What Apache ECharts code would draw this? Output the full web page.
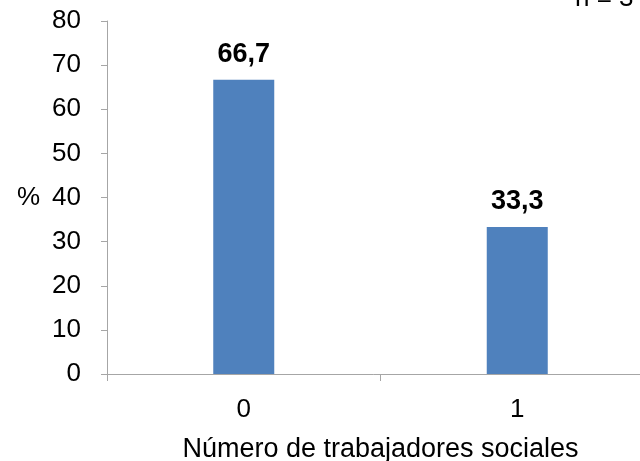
<!DOCTYPE html>
<html>
<head>
    <meta charset="utf-8">
    <title>ECharts</title>
    <script src="https://cdn.jsdelivr.net/npm/echarts@6/dist/echarts.min.js"></script>
</head>
<body style="margin:0;background:#fff">
    <div id="main" style="width: 640px;height:461px;"></div>
    <script>
        // categorías y porcentajes
        var categorias = ['0', '1'];
        var porcentajes = [66.7, 33.3];
        var ejeY = { min: 0, max: 80, interval: 10 };

        var fuente = '"Liberation Sans", Arial, sans-serif';
        var gris = '#a6a6a6';

        var myChart = echarts.init(document.getElementById('main'));

        var option = {
            backgroundColor: '#ffffff',
            animation: false,
            // el gráfico original está recortado por la derecha y por arriba
            grid: { left: 107, width: 547, top: 21, bottom: 87, outerBoundsMode: 'none' },
            graphic: [
                { type: 'text', left: 17, top: 185, style: { text: '%', font: '26px ' + fuente, fill: '#000' } },
                { type: 'text', left: 575, top: -14, style: { text: 'n = 3', font: '26px ' + fuente, fill: '#000' } }
            ],
            xAxis: {
                type: 'category',
                data: categorias,
                name: 'Número de trabajadores sociales',
                nameLocation: 'middle',
                nameGap: 62,
                nameTextStyle: { fontFamily: fuente, fontSize: 27, color: '#000' },
                axisLine: { lineStyle: { color: gris, width: 1 } },
                axisTick: { show: true, length: 7, alignWithLabel: false, lineStyle: { color: gris } },
                axisLabel: { margin: 23, fontFamily: fuente, fontSize: 26, color: '#000' }
            },
            yAxis: {
                type: 'value',
                min: ejeY.min,
                max: ejeY.max,
                interval: ejeY.interval,
                splitLine: { show: false },
                axisLine: { show: true, lineStyle: { color: gris, width: 1 } },
                axisTick: { show: true, length: 6, lineStyle: { color: gris } },
                axisLabel: { margin: 26, fontFamily: fuente, fontSize: 26, color: '#000' }
            },
            series: [{
                type: 'bar',
                data: porcentajes,
                barWidth: 61,
                itemStyle: { color: '#4f81bd' },
                label: {
                    show: true,
                    position: 'top',
                    distance: 12,
                    fontFamily: fuente,
                    fontSize: 27,
                    fontWeight: 'bold',
                    color: '#000',
                    formatter: function (p) { return p.value.toFixed(1).replace('.', ','); }
                }
            }]
        };
        myChart.setOption(option);
    </script>
</body>
</html>
